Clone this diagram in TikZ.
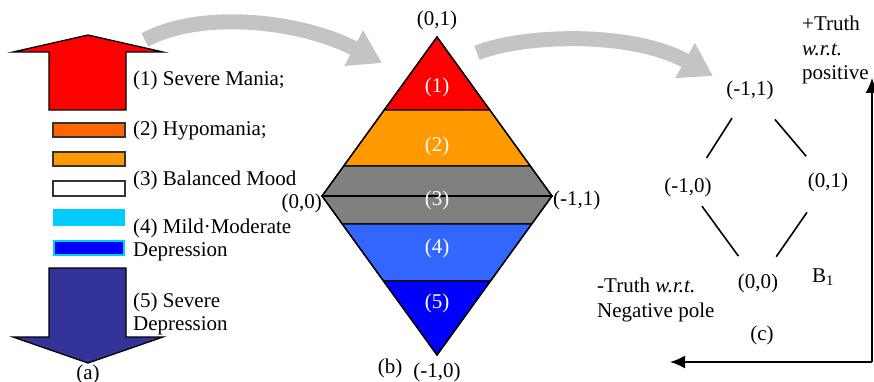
\documentclass[tikz,border=0pt]{standalone}
\usepackage{fontspec}
\setmainfont{Liberation Serif}
\usetikzlibrary{arrows.meta,calc}
\definecolor{mred}{HTML}{FF0000}
\definecolor{morange}{HTML}{FF9900}
\definecolor{mdorange}{HTML}{FF6600}
\definecolor{mgray}{HTML}{808080}
\definecolor{mlblue}{HTML}{3366FF}
\definecolor{mblue}{HTML}{0000FF}
\definecolor{mcyan}{HTML}{00CCFF}
\definecolor{mnavy}{HTML}{333399}
\definecolor{marrow}{HTML}{C4C4C4}
\tikzset{
  lbl/.style={inner sep=0pt, font=\fontsize{21}{24.5}\selectfont},
  lblw/.style={lbl, anchor=west},
  wlbl/.style={lbl, text=white},
  bigarrow/.style={draw=black, line width=1.3pt, line join=miter},
  legbox/.style={draw=black!80, line width=1.5pt},
  band/.style={draw=black, line width=1.2pt, line join=miter},
  grayarrow/.style={draw=marrow, line width=15pt, -{Triangle[length=32pt,width=38pt]}},
  latline/.style={draw=black, line width=1.6pt},
  poleline/.style={draw=black, line width=1.8pt, -{Latex[length=15pt,width=13pt]}}
}
\begin{document}
\begin{tikzpicture}[x=1pt,y=-1pt]
\useasboundingbox (0,0) rectangle (874,382);
% ---------- (a) ----------
\path[bigarrow, fill=mred] (88,35) -- (163,52) -- (126,52) -- (126,110) -- (49,110) -- (49,52) -- (13,52) -- cycle;
\path[legbox, fill=mdorange] (53,123) rectangle (125,137);
\path[legbox, fill=morange] (53,152) rectangle (125,166);
\path[legbox, fill=white] (53,181) rectangle (125,196);
\path[fill=mcyan] (53,209) rectangle (125,226);
\path[draw=mcyan, line width=1.5pt, fill=mblue] (54,241) rectangle (124,255);
\path[bigarrow, fill=mnavy] (49,268) -- (126,268) -- (126,337) -- (163,337) -- (88,363) -- (13,337) -- (49,337) -- cycle;
\node[lblw] (l1) at (133,80) {(1) Severe Mania;};
\node[lblw] (l2) at (133,130) {(2) Hypomania;};
\node[lblw] (l3) at (133,180) {(3) Balanced Mood};
\node[lblw] (l4) at (133,228) {(4) Mild·Moderate};
\node[lblw] (l4b) at (133,252) {Depression};
\node[lblw] (l5) at (133,302) {(5) Severe};
\node[lblw] (l5b) at (133,326) {Depression};
\node[lbl] (la) at (88,374) {(a)};
% ---------- (b) ----------
\coordinate (T) at (437,37);
\coordinate (L) at (322,196);
\coordinate (R) at (552,196);
\coordinate (B) at (437,355);
\path[band, fill=mred] (T) -- (384.2,110) -- (489.8,110) -- cycle;
\path[band, fill=morange] (384.2,110) -- (489.8,110) -- (530.3,166) -- (343.7,166) -- cycle;
\path[band, fill=mgray] (343.7,166) -- (530.3,166) -- (R) -- (L) -- cycle;
\path[band, fill=mgray] (L) -- (R) -- (531.7,224) -- (342.3,224) -- cycle;
\path[band, fill=mlblue] (342.3,224) -- (531.7,224) -- (490.5,281) -- (383.5,281) -- cycle;
\path[band, fill=mblue] (383.5,281) -- (490.5,281) -- (B) -- cycle;
\draw[line width=1.4pt] (T) -- (R) -- (B) -- (L) -- cycle;
\draw[line width=1.8pt] (L) -- (R);
\node[wlbl] (b1) at (437,87) {(1)};
\node[wlbl] (b2) at (437,146) {(2)};
\node[wlbl] (b3) at (437,200) {(3)};
\node[wlbl] (b4) at (437,248) {(4)};
\node[wlbl] (b5) at (437,303) {(5)};
\node[lbl] (v01) at (437,20) {(0,1)};
\node[lbl, anchor=east] (v00) at (322,203) {(0,0)};
\node[lbl, anchor=west] (v11) at (553,200) {(-1,1)};
\node[lbl] (lb) at (390,368) {(b)};
\node[lbl] (v10) at (437,372) {(-1,0)};
% ---------- gray arrows ----------
\coordinate (g1s) at (145,40);
\coordinate (g1e) at (382,63);
\coordinate (g2s) at (477,53);
\coordinate (g2e) at (713,76);
\draw[grayarrow] (g1s) .. controls (200,10) and (300,20) .. (g1e);
\draw[grayarrow] (g2s) .. controls (520,35) and (630,30) .. (g2e);
% ---------- (c) ----------
\node[lbl] (c11) at (750,90) {(-1,1)};
\node[lbl] (c10) at (688,187) {(-1,0)};
\node[lbl] (c01) at (828,182) {(0,1)};
\node[lbl] (c00) at (758,283) {(0,0)};
\draw[latline] ($(c10)!0.30!(c11)$) -- ($(c10)!0.71!(c11)$);
\draw[latline] ($(c11)!0.32!(c01)$) -- ($(c11)!0.72!(c01)$);
\draw[latline] ($(c10)!0.20!(c00)$) -- ($(c10)!0.72!(c00)$);
\draw[latline] ($(c00)!0.26!(c01)$) -- ($(c00)!0.70!(c01)$);
\node[lbl] (b1lab) at (823,277) {B\textsubscript{1}};
\node[lbl, anchor=north west, align=left] (ptruth) at (802,16) {+Truth\\\textit{w.r.t.}\\positive};
\node[lbl, anchor=north west, align=left] (ntruth) at (597,278) {-Truth \textit{w.r.t.}\\Negative pole};
\node[lbl] (lc) at (762,335) {(c)};
\coordinate (pc) at (872,362);
\coordinate (ptop) at (872,78);
\coordinate (pleft) at (670,362);
\draw[line width=1.4pt, -{Latex[length=15pt,width=13pt]}] (pc) -- (ptop);
\draw[poleline] (pc) -- (pleft);
\end{tikzpicture}
\end{document}
